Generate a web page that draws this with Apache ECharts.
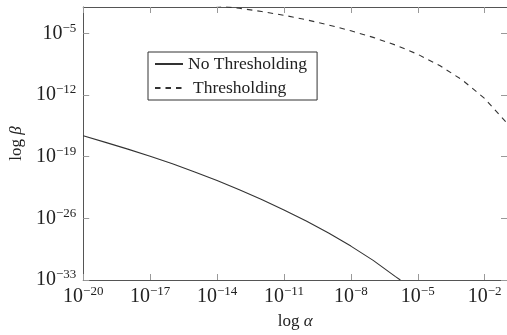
<!DOCTYPE html>
<html>
<head>
<meta charset="utf-8">
<script src="https://cdn.jsdelivr.net/npm/echarts@6/dist/echarts.min.js"></script>
<style>
  html, body { margin: 0; padding: 0; background: #fff; }
  #chart { width: 507px; height: 335px; }
</style>
</head>
<body>
<div id="chart"></div>
<script>
// values are the decimal exponents
let alphaNoThr = [-20, -19, -18, -17, -16, -15, -14, -13, -12, -11, -10, -9, -8, -7, -6, -5.78]
let betaNoThr = [-16.63, -17.37, -18.14, -18.95, -19.81, -20.73, -21.71, -22.76, -23.87, -25.05, -26.31, -27.67, -29.15, -30.77, -32.62, -33]
let alphaThr = [-15, -14, -13, -12, -11, -10, -9, -8, -7, -6, -5, -4, -3, -2, -1]
let betaThr = [-1.6, -1.85, -2.15, -2.51, -2.94, -3.45, -4.04, -4.7, -5.45, -6.32, -7.37, -8.67, -10.3, -12.39, -15.2]
let xTicks = [-20, -17, -14, -11, -8, -5, -2]
let yTicks = [-33, -26, -19, -12, -5]
let names = ['No Thresholding', 'Thresholding']

const F = '"Liberation Serif", "DejaVu Serif", serif'
const ink = '#222'

const powLabel = v => '{b|10}{s|\u2212' + Math.abs(v) + '}'
const powRich = {
  b: {fontFamily: F, fontSize: 20, color: ink},
  s: {fontFamily: F, fontSize: 13, color: ink, padding: [0, 0, 10, 0]}
}
const frameLine = {show: true, onZero: false, lineStyle: {color: '#555', width: 1}}
const tick = vals => ({show: true, inside: true, length: 6, customValues: vals, lineStyle: {color: '#999', width: 1}})

let myChart = echarts.init(document.getElementById('chart'))
myChart.setOption({
  animation: false,
  grid: {left: 83, top: 7, right: -5, bottom: 53, containLabel: false},
  legend: {
    left: 148,
    top: 52,
    orient: 'vertical',
    itemWidth: 28,
    itemHeight: 12,
    itemGap: 4,
    padding: [2, 10, 2, 6],
    borderColor: '#333',
    borderWidth: 1,
    backgroundColor: '#fff',
    itemStyle: {opacity: 0},
    textStyle: {fontFamily: F, fontSize: 17.5, lineHeight: 20, color: ink, rich: {t: {padding: [0, 0, 0, 5]}}},
    formatter: name => name === 'Thresholding' ? '{t|' + name + '}' : name,
    data: names
  },
  xAxis: [{
    type: 'value',
    position: 'bottom',
    min: -20,
    max: -1,
    interval: 3,
    axisLine: frameLine,
    axisTick: tick(xTicks),
    axisLabel: {customValues: xTicks, formatter: powLabel, rich: powRich, margin: 5},
    splitLine: {show: false},
    name: '{n|log }{g|\u03b1}',
    nameLocation: 'middle',
    nameGap: 33,
    nameTextStyle: {rich: {
      n: {fontFamily: F, fontSize: 17, color: ink},
      g: {fontFamily: F, fontSize: 17, fontStyle: 'italic', color: ink}
    }}
  }, {
    type: 'value',
    position: 'top',
    min: -20,
    max: -1,
    interval: 3,
    axisLine: frameLine,
    axisTick: tick(xTicks),
    axisLabel: {show: false},
    splitLine: {show: false}
  }],
  yAxis: [{
    type: 'value',
    position: 'left',
    min: -33,
    max: -2,
    interval: 7,
    axisLine: frameLine,
    axisTick: tick(yTicks),
    axisLabel: {customValues: yTicks, formatter: powLabel, rich: powRich, margin: 7},
    splitLine: {show: false},
    name: '{n|log }{g|\u03b2}',
    nameLocation: 'middle',
    nameGap: 58,
    nameRotate: 90,
    nameTextStyle: {rich: {
      n: {fontFamily: F, fontSize: 17, color: ink},
      g: {fontFamily: F, fontSize: 17, fontStyle: 'italic', color: ink}
    }}
  }, {
    type: 'value',
    position: 'right',
    min: -33,
    max: -2,
    interval: 7,
    axisLine: frameLine,
    axisTick: tick(yTicks),
    axisLabel: {show: false},
    splitLine: {show: false}
  }],
  series: [{
    name: names[0],
    type: 'line',
    symbol: 'none',
    lineStyle: {color: '#333', width: 1.1, type: 'solid'},
    itemStyle: {color: '#333'},
    data: alphaNoThr.map((a, i) => [a, betaNoThr[i]])
  }, {
    name: names[1],
    type: 'line',
    symbol: 'none',
    lineStyle: {color: '#333', width: 1.1, type: [5.5, 5]},
    itemStyle: {color: '#333'},
    data: alphaThr.map((a, i) => [a, betaThr[i]])
  }]
})
</script>
</body>
</html>
